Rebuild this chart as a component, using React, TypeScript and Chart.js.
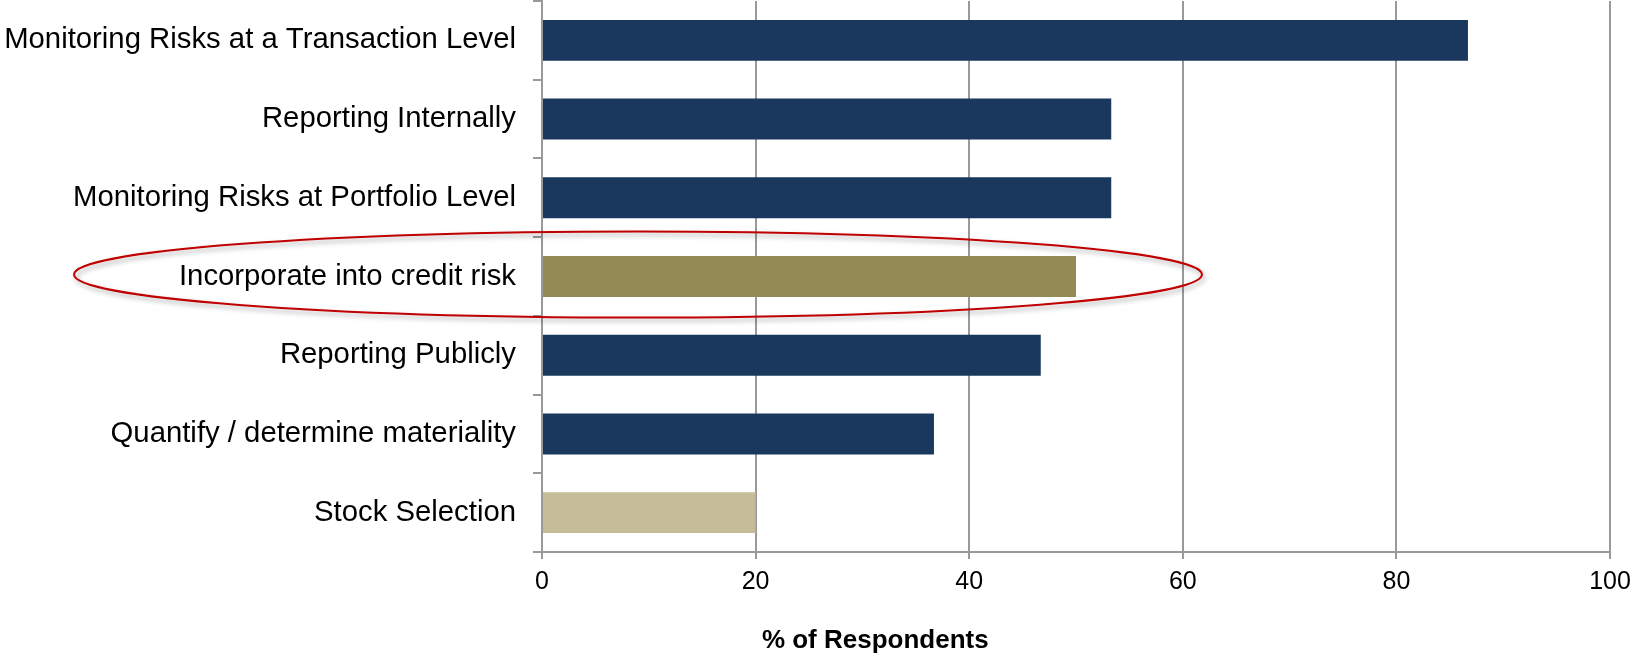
import React, { useEffect, useRef } from "react";
import { Chart, registerables } from "chart.js";

Chart.register(...registerables);

const categories = [
  "Monitoring Risks at a Transaction Level",
  "Reporting Internally",
  "Monitoring Risks at Portfolio Level",
  "Incorporate into credit risk",
  "Reporting Publicly",
  "Quantify / determine materiality",
  "Stock Selection",
];

const respondentShare = [86.7, 53.3, 53.3, 50.0, 46.7, 36.7, 20.0];

const barColors = [
  "#1A385E",
  "#1A385E",
  "#1A385E",
  "#948A54",
  "#1A385E",
  "#1A385E",
  "#C4BD97",
];

const xTicks = [0, 20, 40, 60, 80, 100];

const axisTitle = "% of Respondents";
const highlightedCategory = "Incorporate into credit risk";

const FONT = "'Liberation Sans', Arial, sans-serif";

// Red ring drawn around the highlighted category and its label, plus the axis title.
const overlayPlugin = {
  id: "overlay",
  afterDatasetsDraw(chart: any) {
    const { ctx, scales } = chart;
    const idx = categories.indexOf(highlightedCategory);
    const cy = scales.y.getPixelForValue(idx) - 2;
    const left = 74;
    const right = 1202;
    const cx = (left + right) / 2;
    const rx = (right - left) / 2;
    const ry = 43;
    ctx.save();
    ctx.shadowColor = "rgba(0,0,0,0.35)";
    ctx.shadowBlur = 5;
    ctx.shadowOffsetX = 2;
    ctx.shadowOffsetY = 3;
    ctx.strokeStyle = "#C00000";
    ctx.lineWidth = 2;
    ctx.beginPath();
    ctx.ellipse(cx, cy, rx, ry, 0, 0, Math.PI * 2);
    ctx.stroke();
    ctx.restore();

    ctx.save();
    ctx.font = `bold 26px ${FONT}`;
    ctx.fillStyle = "#000";
    ctx.textAlign = "center";
    ctx.textBaseline = "middle";
    ctx.fillText(axisTitle, chart.width * 0.536, 641);
    ctx.restore();
  },
};

export default function App() {
  const canvasRef = useRef<HTMLCanvasElement | null>(null);

  useEffect(() => {
    if (!canvasRef.current) return;
    const chart = new Chart(canvasRef.current, {
      type: "bar",
      data: {
        labels: categories,
        datasets: [
          {
            data: respondentShare,
            backgroundColor: barColors,
            borderWidth: 0,
            barPercentage: 0.52,
            categoryPercentage: 1,
          },
        ],
      },
      options: {
        indexAxis: "y",
        animation: false,
        responsive: true,
        maintainAspectRatio: false,
        layout: { padding: { top: 1, right: 23, left: 0, bottom: 0 } },
        plugins: {
          legend: { display: false },
          tooltip: { enabled: false },
        },
        scales: {
          x: {
            min: 0,
            max: 100,
            afterBuildTicks: (scale: any) => {
              scale.ticks = xTicks.map((v) => ({ value: v }));
            },
            afterFit: (scale: any) => {
              scale.height = 103;
              scale.paddingLeft = 0;
              scale.paddingRight = 0;
            },
            grid: {
              color: "#999999",
              lineWidth: 2,
              drawTicks: true,
              tickLength: 7,
              tickColor: "#999999",
            },
            border: { color: "#999999", width: 2 },
            ticks: {
              color: "#000",
              font: { family: FONT, size: 25 },
              padding: 8,
              maxRotation: 0,
            },
          },
          y: {
            afterFit: (scale: any) => {
              scale.width = 542;
              scale.paddingTop = 0;
              scale.paddingBottom = 0;
            },
            grid: {
              drawOnChartArea: false,
              offset: true,
              tickLength: 9,
              tickColor: "#999999",
              lineWidth: 2,
            },
            border: { color: "#999999", width: 2 },
            ticks: {
              color: "#000",
              font: { family: FONT, size: 29.3 },
              padding: 17,
              crossAlign: "near",
            },
          },
        },
      },
      plugins: [overlayPlugin],
    });
    return () => chart.destroy();
  }, []);

  return (
    <div
      style={{
        position: "absolute",
        left: 0,
        top: 0,
        width: 1633,
        height: 655,
        background: "#fff",
      }}
    >
      <canvas ref={canvasRef} />
    </div>
  );
}
